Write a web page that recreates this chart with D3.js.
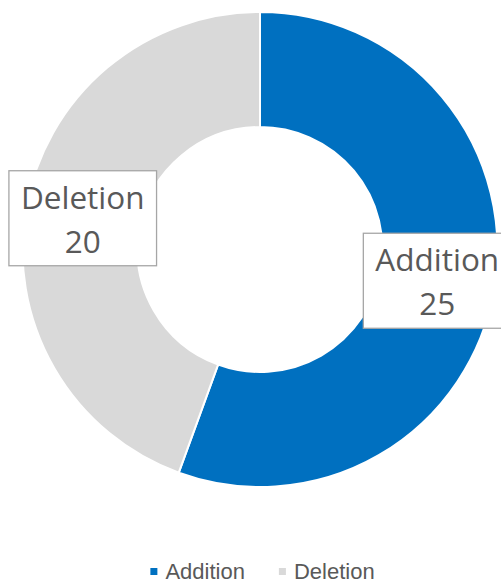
<!DOCTYPE html>
<html>
<head>
<meta charset="utf-8">
<script src="https://cdn.jsdelivr.net/npm/d3@7"></script>
<style>
  html, body { margin: 0; padding: 0; background: #fff; }
  svg { display: block; }
</style>
</head>
<body>
<svg id="chart"></svg>
<script>
const categories = ['Addition', 'Deletion'];
const values     = [25, 20];
const colors     = ['#0070C0', '#D9D9D9'];

const W = 501, H = 584;
const cx = 260, cy = 249.5;
const outerR = 237.5, innerR = 122.5;

const svg = d3.select('#chart')
  .attr('width', W)
  .attr('height', H);

const data = categories.map((c, i) => ({ name: c, value: values[i], color: colors[i] }));

const pie = d3.pie()
  .sort(null)
  .value(d => d.value);

const arc = d3.arc()
  .innerRadius(innerR)
  .outerRadius(outerR);

const g = svg.append('g')
  .attr('transform', `translate(${cx}, ${cy})`);

const arcs = pie(data);

g.selectAll('.slice')
  .data(arcs)
  .enter()
  .append('path')
  .attr('class', 'slice')
  .attr('d', arc)
  .attr('fill', d => d.data.color)
  .attr('stroke', '#fff')
  .attr('stroke-width', 2);

// data labels in boxes at the arc centroid
const fs = 31.5, lineH = 44, boxH = 95, padX = 12;

const labels = g.selectAll('.label')
  .data(arcs)
  .enter()
  .append('g')
  .attr('class', 'label')
  .attr('transform', d => `translate(${arc.centroid(d)})`);

labels.each(function(d) {
  const lg = d3.select(this);
  const rect = lg.append('rect')
    .attr('fill', '#fff')
    .attr('stroke', '#A6A6A6')
    .attr('stroke-width', 1.3);

  const t1 = lg.append('text')
    .attr('text-anchor', 'middle')
    .attr('y', -9.5)
    .attr('font-family', '"Open Sans", sans-serif')
    .attr('font-size', fs)
    .attr('fill', '#595959')
    .text(d.data.name);

  lg.append('text')
    .attr('text-anchor', 'middle')
    .attr('y', -9.5 + lineH)
    .attr('font-family', '"Open Sans", sans-serif')
    .attr('font-size', fs)
    .attr('fill', '#595959')
    .text(d.data.value);

  const w = t1.node().getComputedTextLength() + padX * 2;
  rect.attr('x', -w / 2).attr('y', -boxH / 2)
    .attr('width', w).attr('height', boxH);
});

// legend
const legend = svg.append('g');
const legendFs = 22, marker = 7, markerGap = 8, itemGap = 34;
const legendBase = 579;

let xPos = 0;
data.forEach(d => {
  const item = legend.append('g');
  item.append('rect')
    .attr('x', 0)
    .attr('y', legendBase - 11)
    .attr('width', marker).attr('height', marker)
    .attr('fill', d.color);
  const t = item.append('text')
    .attr('x', marker + markerGap)
    .attr('y', legendBase)
    .attr('font-family', '"Liberation Sans", Arial, sans-serif')
    .attr('font-size', legendFs)
    .attr('fill', '#595959')
    .text(d.name);
  item.attr('transform', `translate(${xPos}, 0)`);
  xPos += marker + markerGap + t.node().getComputedTextLength() + itemGap;
});
const legendW = xPos - itemGap;
legend.attr('transform', `translate(${262.5 - legendW / 2}, 0)`);
</script>
</body>
</html>
